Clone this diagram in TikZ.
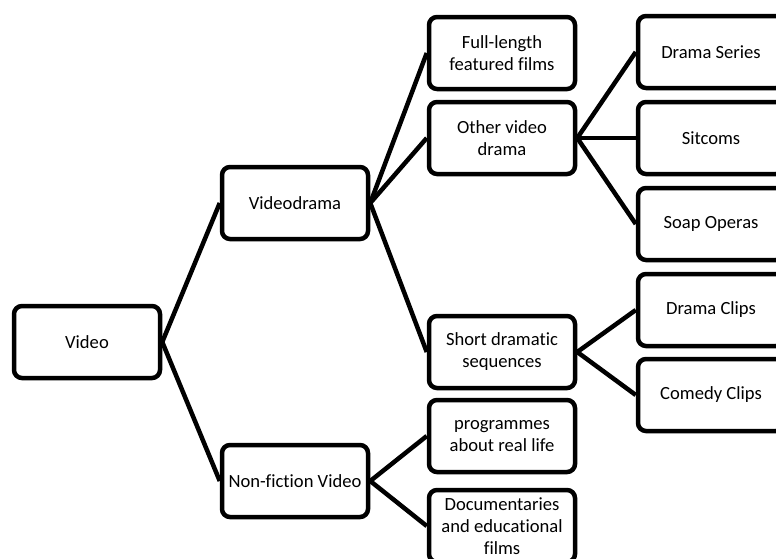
\documentclass[tikz,border=0pt]{standalone}
\usepackage{fontspec}
\setmainfont[Ligatures={NoCommon}]{Carlito}
\usetikzlibrary{positioning}

\tikzset{
	catbox/.style={draw=black, fill=white, line width=4.5pt, rounded corners=8pt,
		minimum width=146pt, minimum height=72pt, inner sep=2pt, align=center,
		font=\fontsize{18.6}{22}\selectfont},
	branch/.style={draw=black, line width=4.5pt}
}

\begin{document}
\begin{tikzpicture}[x=1pt, y=-1pt]
				% Picture frame
				\clip (0,0) rectangle (776,558);
				% Root and first level
				\node[catbox] (video) at (87,342) {Video};
				\node[catbox] (videodrama) at (295,203) {Videodrama};
				\node[catbox] (nonfiction) at (295,481) {Non-fiction Video};
				% Second level
				\node[catbox] (fulllength) at (502,53) {Full-length\\featured films};
				\node[catbox] (otherdrama) at (502,138) {Other video\\drama};
				\node[catbox] (shortdrama) at (502,352) {Short dramatic\\sequences};
				\node[catbox] (reallife) at (502,436) {programmes\\about real life};
				\node[catbox, inner ysep=4pt] (documentaries) at (502,526) {Documentaries\\and educational\\films};
				% Third level
				\node[catbox] (dramaseries) at (711,52) {Drama Series};
				\node[catbox] (sitcoms) at (711,138) {Sitcoms};
				\node[catbox] (soapoperas) at (711,224) {Soap Operas};
				\node[catbox] (dramaclips) at (711,310) {Drama Clips};
				\node[catbox] (comedyclips) at (711,395) {Comedy Clips};
				% Branches
				\draw[branch] (video.east) -- (videodrama.west);
				\draw[branch] (video.east) -- (nonfiction.west);
				\draw[branch] (videodrama.east) -- (fulllength.west);
				\draw[branch] (videodrama.east) -- (otherdrama.west);
				\draw[branch] (videodrama.east) -- (shortdrama.west);
				\draw[branch] (nonfiction.east) -- (reallife.west);
				\draw[branch] (nonfiction.east) -- (documentaries.west);
				\draw[branch] (otherdrama.east) -- (dramaseries.west);
				\draw[branch] (otherdrama.east) -- (sitcoms.west);
				\draw[branch] (otherdrama.east) -- (soapoperas.west);
				\draw[branch] (shortdrama.east) -- (dramaclips.west);
				\draw[branch] (shortdrama.east) -- (comedyclips.west);
			\end{tikzpicture}
\end{document}
